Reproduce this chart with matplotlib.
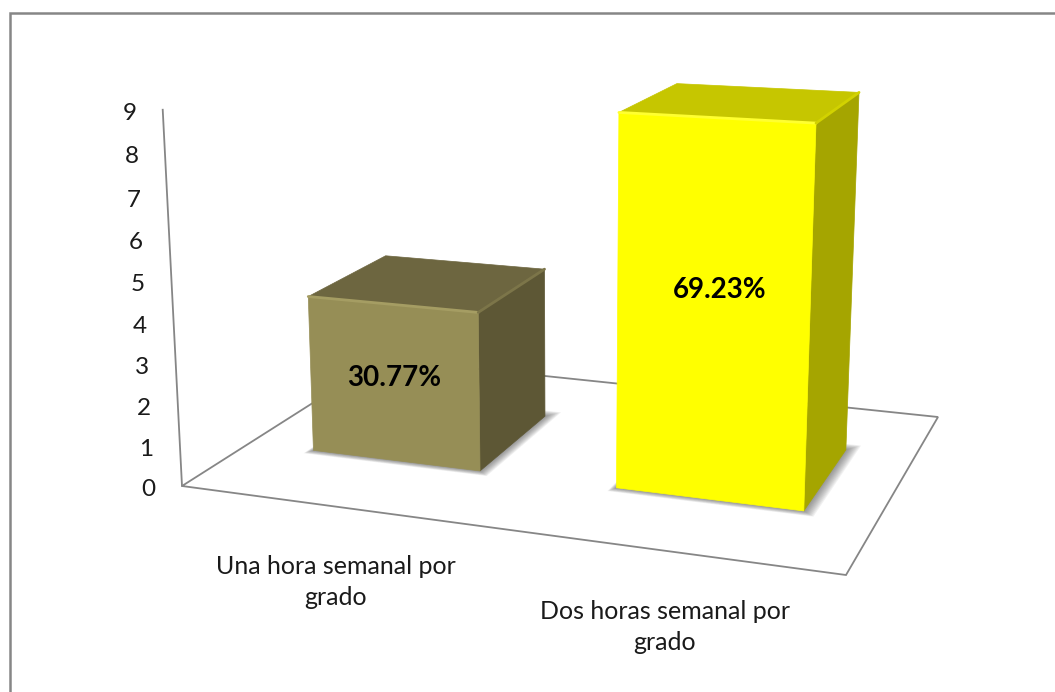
import numpy as np
import matplotlib
matplotlib.use('Agg')
import matplotlib.pyplot as plt
from matplotlib.patches import Polygon

categorias = ['Una hora semanal por\ngrado', 'Dos horas semanal por\ngrado']
valores = [4, 9]
porcentajes = ['30.77%', '69.23%']
ticks = [0, 1, 2, 3, 4, 5, 6, 7, 8, 9]

colores_frente = ['#968E56', '#FFFF00']
colores_arriba = ['#6D6640', '#C6C600']
colores_lado = ['#5D5735', '#A5A500']
colores_brillo = ['#A59D63', '#FFFF30']
colores_brillo2 = ['#7C7549', '#D2D200']

gris = '#868686'

# camera for the 3d look: u along categories, d into the page, z is the value
H = np.array([[564.387, 281.644, 182.0],
              [21.2963, -50.2718, 486.0],
              [-0.117746, 0.213728, 1.0]])
V = np.array([-2.97301, -41.9657, -0.00523757])


def proyectar(u, d, z):
    p = H @ np.array([u, d, 1.0]) + V * z
    return p[0] / p[2], p[1] / p[2]


def cara(ax, puntos, color, zorder=3):
    xy = [proyectar(*p) for p in puntos]
    ax.add_patch(Polygon(xy, closed=True, facecolor=color, edgecolor=color, lw=0.5, zorder=zorder))


plt.rcParams['font.family'] = ['Lato', 'DejaVu Sans']
fig = plt.figure(figsize=(10.55, 6.92), dpi=100)
ax = fig.add_axes([0, 0, 1, 1])
ax.set_xlim(0, 1055)
ax.set_ylim(692, 0)
ax.axis('off')

# outer frame, only top and left fall inside the picture
ax.plot([9.5, 9.5, 1055], [692, 12.5, 12.5], color=gris, lw=1.8, solid_joinstyle='miter', zorder=1)

# floor and value axis
piso = [proyectar(0, 0, 0), proyectar(1, 0, 0), proyectar(1, 1, 0), proyectar(0, 1, 0)]
ax.add_patch(Polygon(piso, closed=True, facecolor='white', edgecolor=gris, lw=1.3, zorder=1))
x0, y0 = proyectar(0, 0, 0)
x9, y9 = proyectar(0, 0, max(ticks) + 0.09)
ax.plot([x0, x9], [y0, y9], color=gris, lw=1.3, zorder=1)

for t in ticks:
    tx, ty = proyectar(0, 0, t * 1.0085)
    ax.text(tx - 33.5, ty + 3, str(t), ha='center', va='center', fontsize=17.5, color='#1a1a1a')

ancho = 0.141
d0, d1 = 0.30, 0.70
centros = [0.2525, 0.7525]
ajuste_etiqueta = [(0.5, 4), (7.5, 0)]
ajuste_categoria = [(1.5, 7), (-1, 7)]

for i, (c, val) in enumerate(zip(centros, valores)):
    u0, u1 = c - ancho, c + ancho

    # soft shadow on the floor
    n = 10
    for k in range(n):
        e = 1 - k / n
        cuad = [proyectar(u0 - 0.008 * e, d0 - 0.025 * e, 0), proyectar(u1 + 0.018 * e, d0 - 0.025 * e, 0),
                proyectar(u1 + 0.018 * e, d1 + 0.04 * e, 0), proyectar(u0 - 0.008 * e, d1 + 0.04 * e, 0)]
        ax.add_patch(Polygon(cuad, closed=True, facecolor='#404040', edgecolor='none', alpha=0.07, zorder=2))

    cara(ax, [(u0, d0, val), (u1, d0, val), (u1, d1, val), (u0, d1, val)], colores_arriba[i])
    cara(ax, [(u1, d0, 0), (u1, d1, 0), (u1, d1, val), (u1, d0, val)], colores_lado[i])
    cara(ax, [(u0, d0, 0), (u1, d0, 0), (u1, d0, val), (u0, d0, val)], colores_frente[i])

    # little bevel along the top edges
    a = proyectar(u0, d0, val)
    b = proyectar(u1, d0, val)
    e = proyectar(u1, d1, val)
    ax.plot([a[0], b[0]], [a[1], b[1]], color=colores_brillo[i], lw=2, solid_capstyle='round', zorder=4)
    ax.plot([b[0], e[0]], [b[1], e[1]], color=colores_brillo2[i], lw=2, solid_capstyle='round', zorder=4)

    lx, ly = proyectar(c, d0, val * 0.56)
    ax.text(lx + ajuste_etiqueta[i][0], ly + ajuste_etiqueta[i][1], porcentajes[i], ha='center', va='center',
            fontsize=20, fontweight='bold', color='black', zorder=5)

# category labels sit below the front edge of the floor
for i, c in enumerate(centros):
    fx, fy = proyectar(c, 0, 0)
    ax.text(fx + ajuste_categoria[i][0], fy + 69 + ajuste_categoria[i][1], categorias[i], ha='center', va='center',
            fontsize=18, color='#1a1a1a', linespacing=1.42)

fig.savefig('out.png', dpi=100)
